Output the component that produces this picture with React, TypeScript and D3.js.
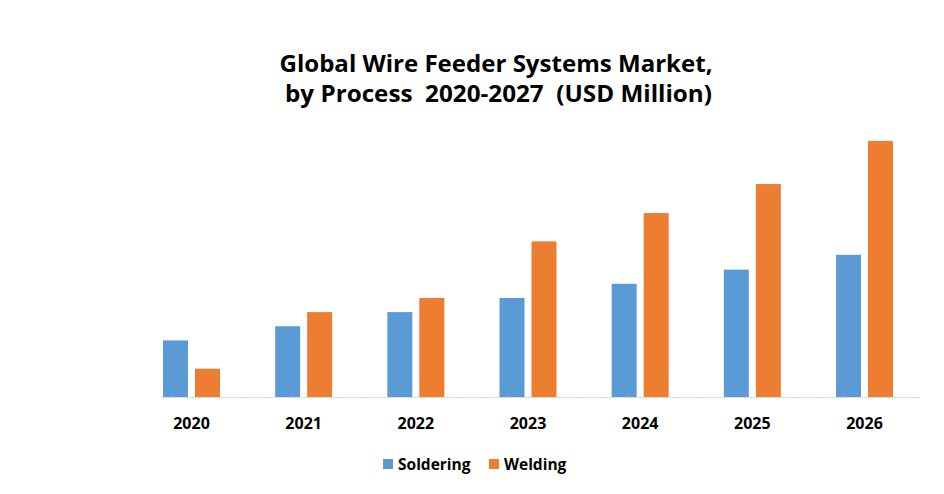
import React from "react";
import * as d3 from "d3";

const categories = ["2020", "2021", "2022", "2023", "2024", "2025", "2026"];
const seriesNames = ["Soldering", "Welding"];
const soldering = [4, 5, 6, 7, 8, 9, 10.05];
const welding = [2, 6, 7, 11, 13, 15.05, 18.1];
const colors = ["#5B9BD5", "#ED7D31"];

export default function App() {
  const W = 944;
  const H = 494;
  const baseline = 397;
  const x = d3.scaleBand<string>().domain(categories).range([135.4, 920.6]).paddingInner(0).paddingOuter(0);
  const y = d3.scaleLinear().domain([0, 20]).range([baseline, baseline - 283]);
  const barW = 25;
  const gap = 7;
  const series = [soldering, welding];
  const font = "'Open Sans', 'Noto Sans', sans-serif";

  return (
    <svg width={W} height={H} style={{ position: "absolute", left: 0, top: 0, background: "#fff" }}>
      <rect x={0} y={0} width={W} height={H} fill="#fff" />
      <text x={496} y={72} textAnchor="middle" fontFamily={font} fontWeight="bold" fontSize={23} fill="#000"
        textLength={433} lengthAdjust="spacingAndGlyphs">
        Global Wire Feeder Systems Market,
      </text>
      <text x={498.5} y={102} textAnchor="middle" fontFamily={font} fontWeight="bold" fontSize={23} fill="#000"
        textLength={427} lengthAdjust="spacingAndGlyphs" xmlSpace="preserve">
        by Process  2020-2027  (USD Million)
      </text>
      {categories.map((c, i) => {
        const cx = (x(c) as number) + x.bandwidth() / 2;
        return (
          <g key={c}>
            {series.map((s, j) => {
              const left = cx - gap / 2 - barW + j * (barW + gap);
              return (
                <rect key={j} x={left} y={y(s[i])} width={barW} height={baseline - y(s[i])} fill={colors[j]} />
              );
            })}
            <text x={cx} y={428.5} textAnchor="middle" fontFamily={font} fontWeight="bold" fontSize={16} fill="#000">
              {c}
            </text>
          </g>
        );
      })}
      <line x1={162} x2={920} y1={baseline + 0.5} y2={baseline + 0.5} stroke="#D0D0D0" strokeWidth={1} strokeDasharray="2,1" />
      {seriesNames.map((n, j) => {
        const lx = j === 0 ? 383 : 489;
        return (
          <g key={n}>
            <rect x={lx} y={459} width={10} height={10} fill={colors[j]} />
            <text x={lx + 15} y={469.5} fontFamily={font} fontWeight="bold" fontSize={15.5} fill="#000">
              {n}
            </text>
          </g>
        );
      })}
    </svg>
  );
}
